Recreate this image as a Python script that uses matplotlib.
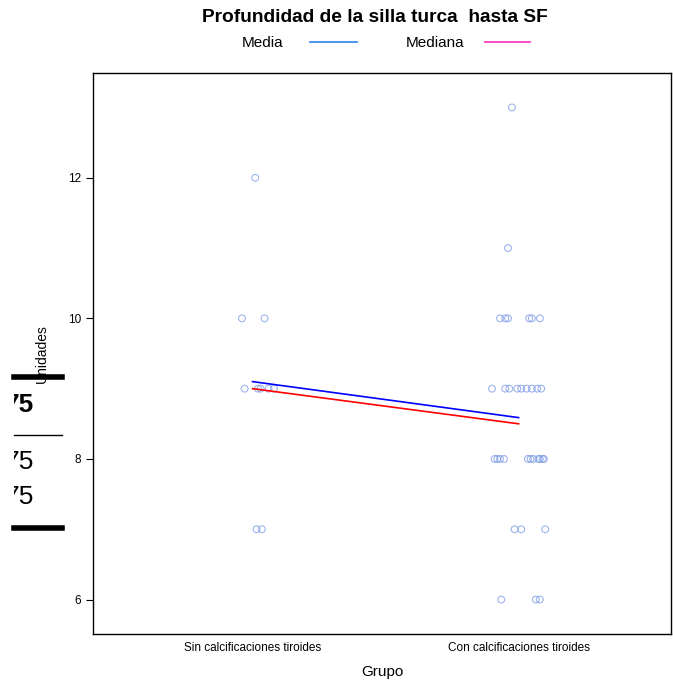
import matplotlib
matplotlib.use("Agg")
import matplotlib.pyplot as plt
from matplotlib.lines import Line2D
from matplotlib.patches import Rectangle

plt.rcParams['font.family'] = ['Liberation Sans', 'DejaVu Sans']

# Data
groups = ["Sin calcificaciones tiroides", "Con calcificaciones tiroides"]
sin_values = [12, 10, 10, 9, 9, 9, 9, 9, 7, 7]
sin_jitter = [0.01, -0.04, 0.045, -0.03, 0.02, 0.03, 0.06, 0.08, 0.015, 0.035]
con_values = [13, 11,
              10, 10, 10, 10, 10, 10,
              9, 9, 9, 9, 9, 9, 9, 9, 9,
              8, 8, 8, 8, 8, 8, 8, 8, 8, 8, 8,
              7, 7, 7,
              6, 6, 6]
con_jitter = [-0.025, -0.04,
              -0.07, -0.05, -0.04, 0.04, 0.05, 0.08,
              -0.10, -0.05, -0.035, -0.005, 0.01, 0.03, 0.05, 0.07, 0.085,
              -0.09, -0.08, -0.07, -0.055, 0.035, 0.045, 0.055, 0.075, 0.08, 0.09, 0.095,
              -0.015, 0.01, 0.10,
              -0.065, 0.065, 0.08]

mean_vals = [sum(sin_values) / len(sin_values), sum(con_values) / len(con_values)]


def median(v):
    s = sorted(v)
    n = len(s)
    return s[n // 2] if n % 2 else (s[n // 2 - 1] + s[n // 2]) / 2


median_vals = [median(sin_values), median(con_values)]

fig = plt.figure(figsize=(6.73, 6.86), dpi=100)
W, H = 673, 686
ax = fig.add_axes([93 / W, 1 - 634 / H, (671 - 93) / W, (634 - 73) / H])

pt_color = "#7c9be6"
for pos, vals, jit in [(1, sin_values, sin_jitter), (2, con_values, con_jitter)]:
    ax.scatter([pos + j for j in jit], vals, s=24, facecolors="none",
               edgecolors=pt_color, linewidths=0.8, alpha=0.75, zorder=3)

ax.plot([1, 2], mean_vals, color="#0000ff", lw=1.2, zorder=4)
ax.plot([1, 2], median_vals, color="#ff0000", lw=1.2, zorder=4)

ax.set_xlim(0.4, 2.573)
ax.set_ylim(5.51, 13.49)
ax.set_xticks([1, 2])
ax.set_xticklabels(groups, fontsize=8.5)
ax.set_yticks([6, 8, 10, 12])
ax.tick_params(axis="y", labelsize=8.5, length=5, width=0.8, direction="out")
ax.tick_params(axis="x", length=0, pad=6)
for side in ["left", "right", "top", "bottom"]:
    ax.spines[side].set_linewidth(1.0)

ax.set_xlabel("Grupo", fontsize=11, labelpad=8)
ax.set_ylabel("Unidades", fontsize=10, labelpad=14)

fig.text(375 / W, 1 - 17 / H, "Profundidad de la silla turca  hasta SF",
         ha="center", va="center", fontsize=13.8, fontweight="bold")

# key above the panel
fig.text(263 / W, 1 - 43 / H, "Media", ha="center", va="center", fontsize=11)
fig.add_artist(Line2D([310 / W, 357 / W], [1 - 42 / H] * 2, color="#3a8fe8", lw=1.3))
fig.text(435 / W, 1 - 43 / H, "Mediana", ha="center", va="center", fontsize=11)
fig.add_artist(Line2D([485 / W, 530 / W], [1 - 42 / H] * 2, color="#ff3cc8", lw=1.3))

# stray table fragment on the left edge, clipped at x=14px
clip = Rectangle((14 / W, 0), 1, 1, transform=fig.transFigure)
fig.add_artist(Line2D([14 / W, 62 / W], [1 - 377 / H] * 2, color="black", lw=4))
fig.add_artist(Line2D([14 / W, 62 / W], [1 - 435 / H] * 2, color="black", lw=1))
fig.add_artist(Line2D([14 / W, 62 / W], [1 - 528 / H] * 2, color="black", lw=4))
for ypix, wt in [(405, "bold"), (462, "normal"), (497, "normal")]:
    t = fig.text(34 / W, 1 - ypix / H, "75", ha="right", va="center",
                 fontsize=19, fontweight=wt)
    t.set_clip_path(clip)

fig.savefig("out.png", dpi=100)
